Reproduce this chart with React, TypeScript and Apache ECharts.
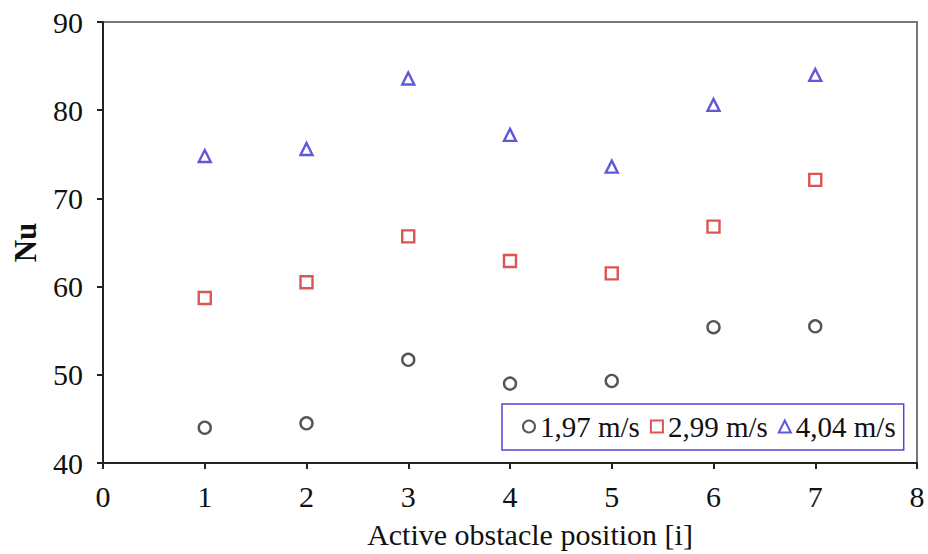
import React, { useEffect, useRef } from "react";
import * as echarts from "echarts";

const positions = [1, 2, 3, 4, 5, 6, 7];
const seriesNames = ["1,97 m/s", "2,99 m/s", "4,04 m/s"];
const nu197 = [44.0, 44.5, 51.7, 49.0, 49.3, 55.4, 55.5];
const nu299 = [58.7, 60.5, 65.7, 62.9, 61.5, 66.8, 72.1];
const nu404 = [74.8, 75.6, 83.6, 77.2, 73.6, 80.6, 84.0];

const FONT = "'Liberation Serif', 'Times New Roman', serif";

export default function App() {
  const ref = useRef<HTMLDivElement>(null);
  useEffect(() => {
    if (!ref.current) return;
    const chart = echarts.init(ref.current, null, { renderer: "svg" });
    const mk = (vals: number[]) => positions.map((p, i) => [p, vals[i]]);
    chart.setOption({
      animation: false,
      backgroundColor: "#fff",
      textStyle: { fontFamily: FONT },
      grid: {
        left: 103,
        top: 22,
        right: 11,
        bottom: 91,
        outerBoundsMode: "none",
        containLabel: false,
        show: true,
        borderColor: "#777",
        borderWidth: 2,
      },
      legend: {
        left: 502,
        top: 404,
        padding: [8, 8, 9, 20],
        itemGap: 10,
        itemWidth: 12,
        itemHeight: 12,
        borderColor: "#5544dd",
        borderWidth: 1.5,
        backgroundColor: "#fff",
        textStyle: { fontFamily: FONT, fontSize: 29, color: "#111" },
        data: seriesNames,
      },
      xAxis: {
        type: "value",
        min: 0,
        max: 8,
        interval: 1,
        name: "Active obstacle position [i]",
        nameLocation: "middle",
        nameGap: 56,
        nameTextStyle: { fontFamily: FONT, fontSize: 30, color: "#111", padding: [0, 0, 0, 40] },
        axisLine: { show: true, lineStyle: { color: "#222", width: 2 } },
        axisTick: { show: true, inside: false, length: 6, lineStyle: { color: "#222", width: 2 } },
        axisLabel: { fontFamily: FONT, fontSize: 30, color: "#111", margin: 18 },
        splitLine: { show: false },
      },
      yAxis: {
        type: "value",
        min: 40,
        max: 90,
        interval: 10,
        name: "Nu",
        nameLocation: "middle",
        nameRotate: 90,
        nameGap: 62,
        nameTextStyle: { fontFamily: FONT, fontSize: 31, fontWeight: "bold", color: "#111" },
        axisLine: { show: true, lineStyle: { color: "#222", width: 2 } },
        axisTick: { show: true, inside: false, length: 6, lineStyle: { color: "#222", width: 2 } },
        axisLabel: { fontFamily: FONT, fontSize: 30, color: "#111", margin: 20 },
        splitLine: { show: false },
      },
      series: [
        {
          name: seriesNames[0],
          type: "scatter",
          symbol: "circle",
          symbolSize: 12,
          data: mk(nu197),
          itemStyle: { color: "#fff", borderColor: "#2a2a2a", borderWidth: 2.4 },
        },
        {
          name: seriesNames[1],
          type: "scatter",
          symbol: "rect",
          symbolSize: 12,
          data: mk(nu299),
          itemStyle: { color: "#fff", borderColor: "#d22a2a", borderWidth: 2.4 },
        },
        {
          name: seriesNames[2],
          type: "scatter",
          symbol: "triangle",
          symbolSize: 12,
          data: mk(nu404),
          itemStyle: { color: "#fff", borderColor: "#3a2ed0", borderWidth: 2.4 },
        },
      ],
    });
    return () => chart.dispose();
  }, []);
  return (
    <div
      ref={ref}
      style={{ position: "fixed", left: 0, top: 0, width: 928, height: 554 }}
    />
  );
}
